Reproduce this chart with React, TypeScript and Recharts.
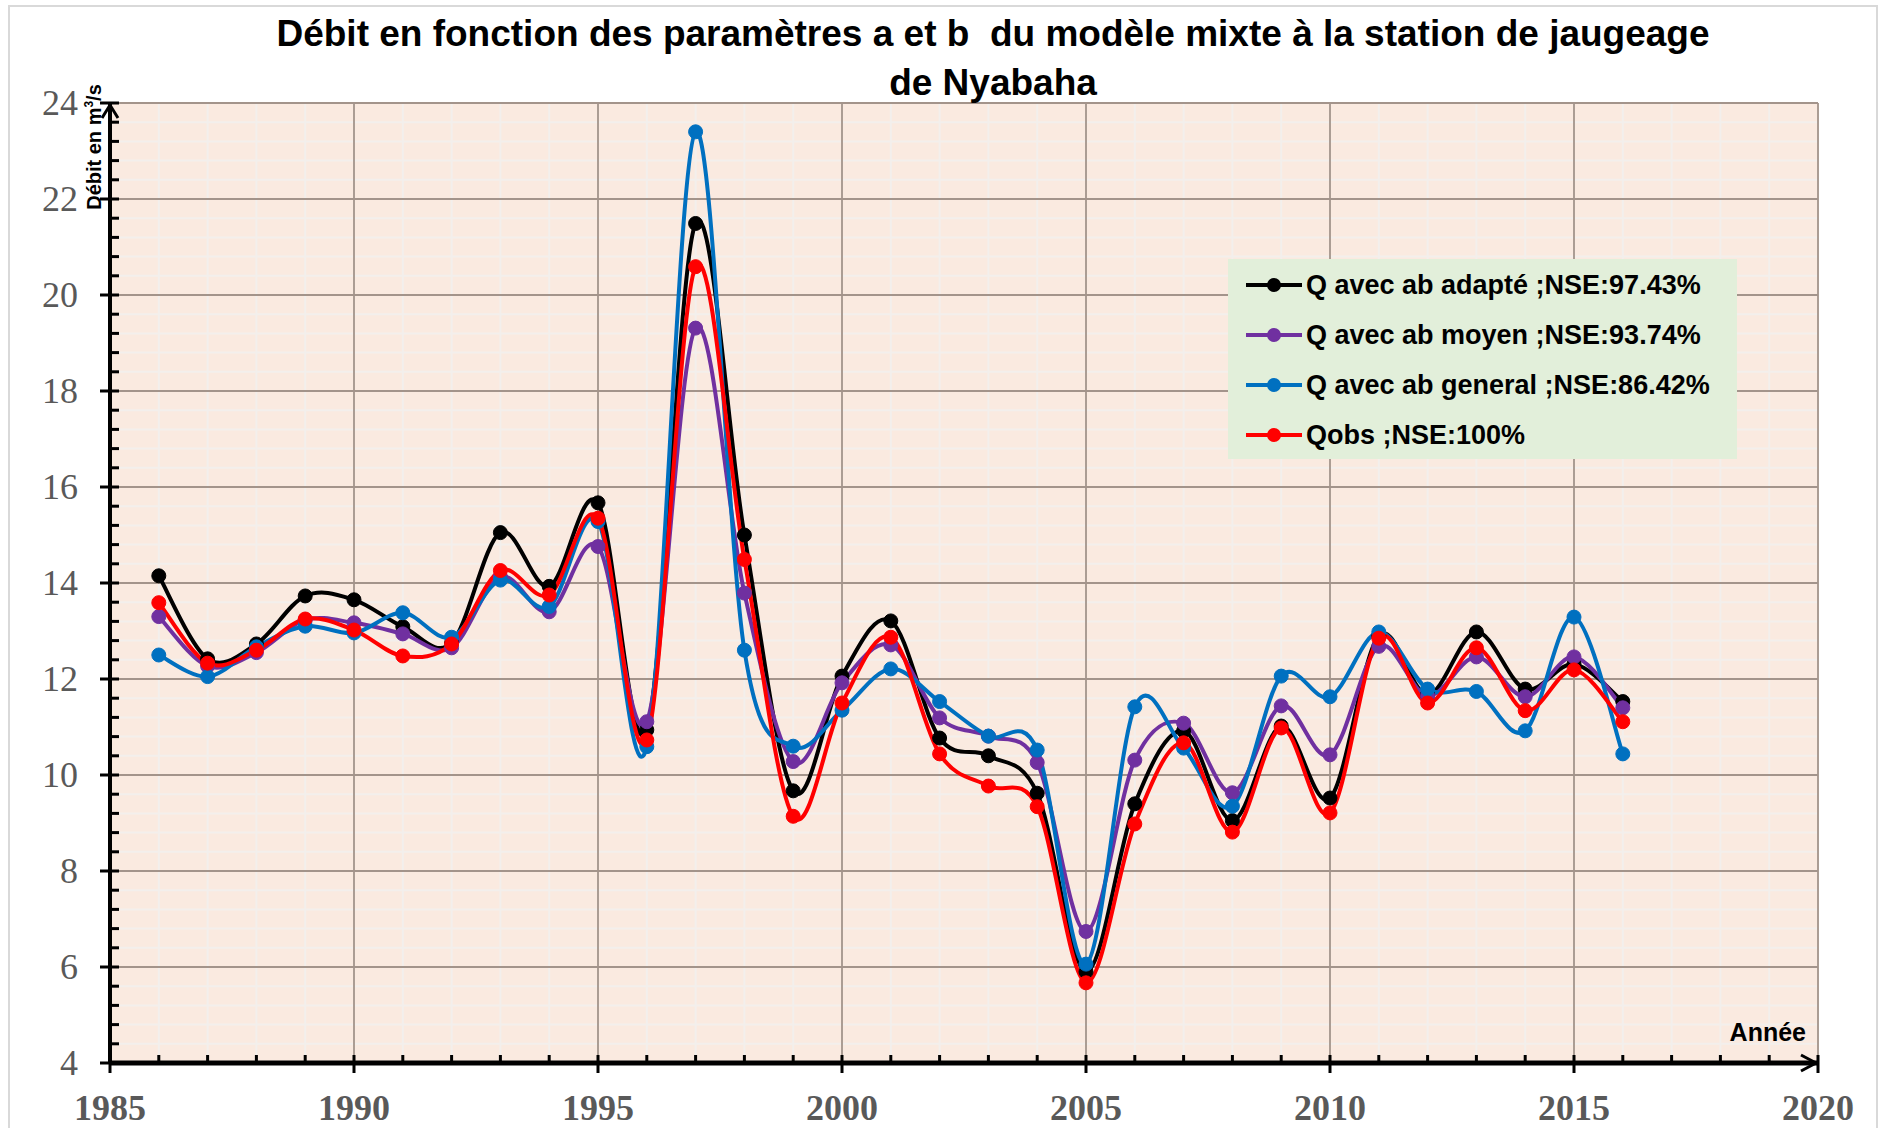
import React from 'react';
import { LineChart, Line, XAxis, YAxis, CartesianGrid, Legend } from 'recharts';

// Années et débits (m3/s)
const years = [
  1986, 1987, 1988, 1989, 1990, 1991, 1992, 1993, 1994, 1995, 1996, 1997, 1998, 1999, 2000, 2001,
  2002, 2003, 2004, 2005, 2006, 2007, 2008, 2009, 2010, 2011, 2012, 2013, 2014, 2015, 2016,
];
const qAdapte = [
  14.15, 12.42, 12.73, 13.73, 13.65, 13.09, 12.75, 15.05, 13.93, 15.67, 10.94, 21.49, 15.0, 9.67, 12.06, 13.21,
  10.77, 10.4, 9.62, 5.9, 9.4, 10.92, 9.05, 11.02, 9.52, 12.9, 11.67, 12.98, 11.79, 12.31, 11.53,
];
const qMoyen = [
  13.3, 12.27, 12.55, 13.23, 13.17, 12.94, 12.65, 14.13, 13.4, 14.76, 11.11, 19.31, 13.79, 10.28, 11.92, 12.71,
  11.19, 10.81, 10.26, 6.74, 10.31, 11.08, 9.63, 11.44, 10.42, 12.68, 11.65, 12.46, 11.63, 12.46, 11.4,
];
const qGeneral = [
  12.5, 12.05, 12.67, 13.1, 12.96, 13.38, 12.87, 14.06, 13.51, 15.28, 10.59, 23.4, 12.6, 10.6, 11.35, 12.21,
  11.53, 10.81, 10.52, 6.06, 11.42, 10.56, 9.35, 12.06, 11.63, 12.98, 11.79, 11.74, 10.92, 13.29, 10.44,
];
const qObs = [
  13.59, 12.33, 12.6, 13.25, 13.02, 12.48, 12.73, 14.26, 13.75, 15.35, 10.73, 20.59, 14.49, 9.14, 11.5, 12.87,
  10.44, 9.77, 9.34, 5.67, 8.98, 10.67, 8.81, 10.98, 9.21, 12.85, 11.5, 12.65, 11.34, 12.19, 11.11,
];

const xMajorTicks = [1985, 1990, 1995, 2000, 2005, 2010, 2015, 2020];
const yMajorTicks = [4, 6, 8, 10, 12, 14, 16, 18, 20, 22, 24];
const xMinorTicks = Array.from({ length: 36 }, (_, i) => 1985 + i);
const yMinorTicks = Array.from({ length: 51 }, (_, i) => +(4 + i * 0.4).toFixed(1));

const series = [
  { key: 'adapte', name: 'Q avec ab adapté ;NSE:97.43%', color: '#000000' },
  { key: 'moyen', name: 'Q avec ab moyen ;NSE:93.74%', color: '#7030A0' },
  { key: 'general', name: 'Q avec ab general ;NSE:86.42%', color: '#0070C0' },
  { key: 'obs', name: 'Qobs ;NSE:100%', color: '#FF0000' },
];

const data = years.map((year, i) => ({
  year,
  adapte: qAdapte[i],
  moyen: qMoyen[i],
  general: qGeneral[i],
  obs: qObs[i],
}));

// lissage façon Excel (Catmull-Rom)
const excelSmooth = (context: any) => {
  let pts: number[][] = [];
  return {
    areaStart() {},
    areaEnd() {},
    lineStart() {
      pts = [];
    },
    point(x: number, y: number) {
      pts.push([+x, +y]);
    },
    lineEnd() {
      if (!pts.length) return;
      context.moveTo(pts[0][0], pts[0][1]);
      const n = pts.length;
      for (let i = 0; i < n - 1; i++) {
        const p0 = pts[Math.max(i - 1, 0)];
        const p1 = pts[i];
        const p2 = pts[i + 1];
        const p3 = pts[Math.min(i + 2, n - 1)];
        context.bezierCurveTo(
          p1[0] + (p2[0] - p0[0]) / 6,
          p1[1] + (p2[1] - p0[1]) / 6,
          p2[0] - (p3[0] - p1[0]) / 6,
          p2[1] - (p3[1] - p1[1]) / 6,
          p2[0],
          p2[1]
        );
      }
    },
  };
};

const SERIF = '"Liberation Serif", "Times New Roman", serif';
const SANS = '"Liberation Sans", Arial, sans-serif';

const XTick = ({ x, y, payload }: any) => {
  const v = payload.value;
  const major = v % 5 === 0;
  return (
    <g>
      <line x1={x} x2={x} y1={y - 8} y2={major ? y + 10 : y} stroke="#000" strokeWidth={3} />
      {major && (
        <text x={x} y={y + 57} textAnchor="middle" fontFamily={SERIF} fontWeight="bold" fontSize={36} fill="#595959">
          {v}
        </text>
      )}
      {v === 2020 && (
        <polyline points={`${x - 17},${y - 8} ${x - 2},${y} ${x - 17},${y + 8}`} fill="none" stroke="#000" strokeWidth={3} />
      )}
    </g>
  );
};

const YTick = ({ x, y, payload }: any) => {
  const v = payload.value;
  const major = Math.abs(v / 2 - Math.round(v / 2)) < 1e-6;
  return (
    <g>
      <line x1={major ? x - 10 : x} x2={x + 9} y1={y} y2={y} stroke="#000" strokeWidth={3} />
      {major && (
        <text x={x - 32} y={y} dy={12} textAnchor="end" fontFamily={SERIF} fontSize={36} fill="#595959">
          {v}
        </text>
      )}
      {v === 24 && (
        <polyline points={`${x - 8},${y + 15} ${x},${y + 2} ${x + 8},${y + 15}`} fill="none" stroke="#000" strokeWidth={3} />
      )}
    </g>
  );
};

const LegendBox = () => (
  <div style={{ background: '#E2EFDA', width: 509, height: 200, paddingTop: 1, boxSizing: 'border-box' }}>
    {series.map((s) => (
      <div key={s.key} style={{ display: 'flex', alignItems: 'center', height: 50, paddingLeft: 18 }}>
        <svg width={56} height={20} style={{ flex: 'none' }}>
          <line x1={0} x2={56} y1={10} y2={10} stroke={s.color} strokeWidth={4} />
          <circle cx={28} cy={10} r={7} fill={s.color} />
        </svg>
        <span style={{ marginLeft: 4, fontFamily: SANS, fontWeight: 'bold', fontSize: 27, color: '#000', whiteSpace: 'nowrap' }}>
          {s.name}
        </span>
      </div>
    ))}
  </div>
);

export default function App() {
  return (
    <div style={{ position: 'absolute', left: 0, top: 0, width: 1878, height: 1128, background: '#fff', overflow: 'hidden' }}>
      <div style={{ position: 'absolute', left: 8, top: 5, width: 1866, height: 1200, border: '2px solid #D9D9D9' }} />
      <div
        style={{
          position: 'absolute',
          left: 0,
          top: 9,
          width: 1986,
          textAlign: 'center',
          fontFamily: SANS,
          fontWeight: 'bold',
          fontSize: 37,
          lineHeight: '49px',
          color: '#000',
          zIndex: 2,
        }}
      >
        Débit en fonction des paramètres a et b&nbsp; du modèle mixte à la station de jaugeage
        <br />
        de Nyabaha
      </div>
      <div style={{ position: 'absolute', left: 0, top: 0 }}>
        <LineChart width={1878} height={1128} data={data} margin={{ top: 103, right: 60, left: 0, bottom: 0 }}>
          <CartesianGrid
            horizontalValues={yMinorTicks}
            verticalValues={xMinorTicks}
            stroke="#F3EFEC"
            strokeWidth={2}
            fill="#FAEAE0"
            fillOpacity={1}
          />
          <CartesianGrid horizontalValues={yMajorTicks} verticalValues={xMajorTicks} stroke="#A3948B" strokeWidth={1.8} />
          <XAxis
            dataKey="year"
            type="number"
            domain={[1985, 2020]}
            ticks={xMinorTicks}
            interval={0}
            height={65}
            tickSize={0}
            tickMargin={0}
            tickLine={false}
            axisLine={{ stroke: '#000', strokeWidth: 5 }}
            tick={<XTick />}
          />
          <YAxis
            type="number"
            domain={[4, 24]}
            ticks={yMinorTicks}
            interval={0}
            width={110}
            tickSize={0}
            tickMargin={0}
            tickLine={false}
            axisLine={{ stroke: '#000', strokeWidth: 4 }}
            tick={<YTick />}
          />
          <Legend
            layout="horizontal"
            verticalAlign="middle"
            align="center"
            wrapperStyle={{ left: 1228, top: 259, width: 509, height: 200, right: 'auto', bottom: 'auto' }}
            content={() => <LegendBox />}
          />
          {series.map((s) => (
            <Line
              key={s.key}
              dataKey={s.key}
              name={s.name}
              type={excelSmooth as any}
              stroke={s.color}
              strokeWidth={4}
              dot={{ r: 7, fill: s.color, stroke: s.color, strokeWidth: 1 }}
              activeDot={false}
              isAnimationActive={false}
            />
          ))}
        </LineChart>
      </div>
      <div
        style={{
          position: 'absolute',
          left: 94,
          top: 147,
          transform: 'translate(-50%, -50%) rotate(-90deg)',
          fontFamily: SANS,
          fontWeight: 'bold',
          fontSize: 20,
          whiteSpace: 'nowrap',
          color: '#000',
        }}
      >
        Débit en m<sup style={{ fontSize: 12 }}>3</sup>/s
      </div>
      <div
        style={{
          position: 'absolute',
          left: 1680,
          top: 1020,
          width: 126,
          textAlign: 'right',
          fontFamily: SANS,
          fontWeight: 'bold',
          fontSize: 25,
          lineHeight: '25px',
          color: '#000',
        }}
      >
        Année
      </div>
    </div>
  );
}
